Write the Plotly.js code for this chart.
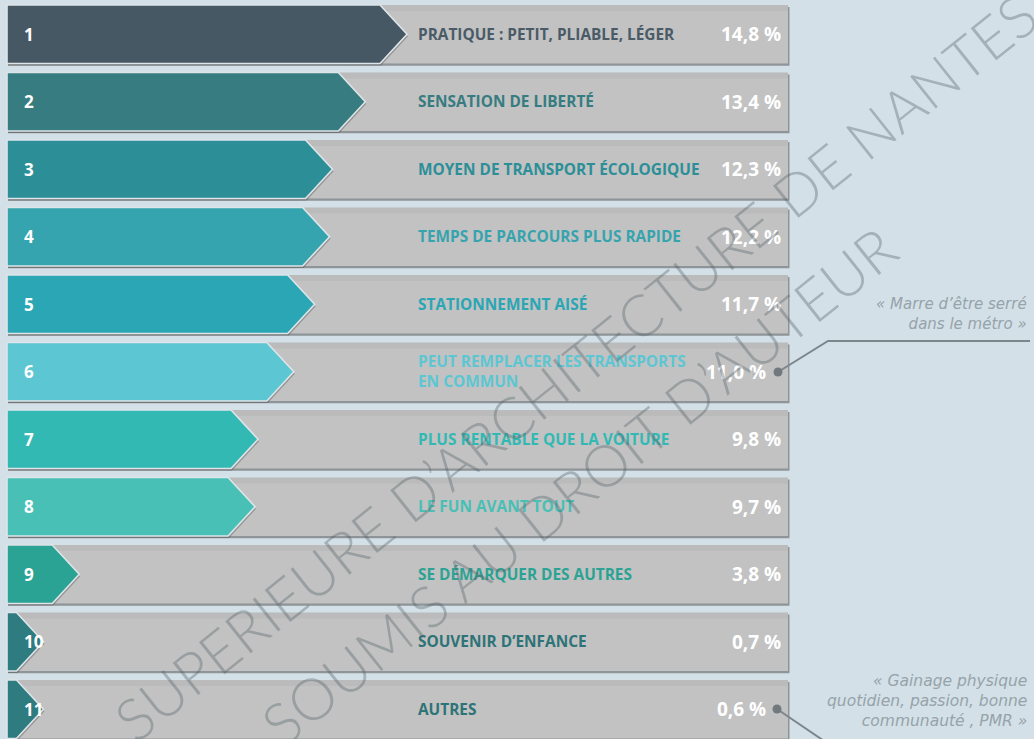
<!DOCTYPE html>
<html>
<head>
<meta charset="utf-8">
<script src="https://cdn.plot.ly/plotly-3.0.1.min.js"></script>
<style>
  html, body { margin: 0; padding: 0; background: #d3e0e7; }
  #chart { width: 1034px; height: 739px; }
</style>
</head>
<body>
<div id="chart"></div>
<script>
// ---------- DATA ----------
const ranks = ['1', '2', '3', '4', '5', '6', '7', '8', '9', '10', '11'];
const labels = [
  'PRATIQUE : PETIT, PLIABLE, LÉGER',
  'SENSATION DE LIBERTÉ',
  'MOYEN DE TRANSPORT ÉCOLOGIQUE',
  'TEMPS DE PARCOURS PLUS RAPIDE',
  'STATIONNEMENT AISÉ',
  'PEUT REMPLACER LES TRANSPORTS<br>EN COMMUN',
  'PLUS RENTABLE QUE LA VOITURE',
  'LE FUN AVANT TOUT',
  'SE DÉMARQUER DES AUTRES',
  'SOUVENIR D’ENFANCE',
  'AUTRES'
];
const values = [14.8, 13.4, 12.3, 12.2, 11.7, 11.0, 9.8, 9.7, 3.8, 0.7, 0.6];
const quoteRows = [5, 10];
const quotes = [
  '« Marre d’être serré<br>dans le métro »',
  '« Gainage physique<br>quotidien, passion, bonne<br>communauté , PMR »'
];
const watermark = [
  'SUPERIEURE D’ARCHITECTURE DE NANTES',
  'SOUMIS AU DROIT D’AUTEUR'
];

// ---------- STYLE ----------
const barColors = ['#465864', '#367c81', '#2c8f98', '#36a4ae', '#2aa6b4', '#5cc6d3',
                   '#33b9b4', '#48c0b5', '#2ba394', '#2e7b80', '#2e7b80'];
const textColors = ['#4a5b67', '#367c81', '#2c8f98', '#36a4ae', '#2aa6b4', '#5cc6d3',
                    '#33b9b4', '#48c0b5', '#2ba394', '#2e7377', '#2e7377'];
const W = 1034, H = 739;
const rowPx = 67.5;
const halfH = 29.25 / rowPx;
const pxPerUnit = 29.8;
const xOffsetPx = -34;
const xr = [(0 - xOffsetPx) / pxPerUnit, (W - xOffsetPx) / pxPerUnit];
const yr = [(H - 34.25) / rowPx, -34.25 / rowPx];
const v = p => (p - xOffsetPx) / pxPerUnit;
const px = p => p / W;
const py = p => 1 - p / H;
const leftV = v(7);
const depth = 27 / pxPerUnit;
const minTip = 2.6;
const dyPx = 1 / rowPx;

const traces = [];
const shapes = [];
const annotations = [];

values.forEach((val, i) => {
  shapes.push({type: 'rect', layer: 'below', xref: 'paper', yref: 'y',
    x0: px(8), x1: px(789.5), y0: i - halfH + 2 * dyPx, y1: i + halfH + 2.2 * dyPx,
    fillcolor: '#8e9497', line: {width: 0}});
  shapes.push({type: 'rect', layer: 'below', xref: 'paper', yref: 'y',
    x0: px(7), x1: px(788), y0: i - halfH, y1: i + halfH,
    fillcolor: '#c2c2c2', line: {width: 0}});
  shapes.push({type: 'rect', layer: 'below', xref: 'paper', yref: 'y',
    x0: px(7), x1: px(788), y0: i - halfH, y1: i - halfH + 6 * dyPx,
    fillcolor: 'rgba(0,0,0,0.035)', line: {width: 0}});

  const tip = Math.max(val, minTip);
  const body = Math.max(leftV, tip - depth);
  traces.push({type: 'scatter', mode: 'lines', hoverinfo: 'skip', showlegend: false,
    x: [leftV, body, tip, body, leftV, leftV].map(q => q + 1 / pxPerUnit),
    y: [i - halfH, i - halfH, i, i + halfH, i + halfH, i - halfH].map(q => q + 2 * dyPx),
    fill: 'toself', fillcolor: 'rgba(60,60,60,0.35)', line: {width: 0}});
  traces.push({type: 'scatter', mode: 'lines', hoverinfo: 'skip', showlegend: false,
    x: [leftV, body, tip, body, leftV, leftV],
    y: [i - halfH, i - halfH, i, i + halfH, i + halfH, i - halfH],
    fill: 'toself', fillcolor: barColors[i], line: {color: '#dde5e9', width: 1.6}});

  annotations.push({xref: 'paper', yref: 'y', x: px(22), y: i, xanchor: 'left', yanchor: 'middle',
    text: ranks[i], showarrow: false,
    font: {family: 'Open Sans', size: 17, color: '#ffffff', weight: 'bold'}});
  annotations.push({xref: 'paper', yref: 'y', x: px(416), y: i, xanchor: 'left', yanchor: 'middle',
    text: labels[i], showarrow: false, align: 'left',
    font: {family: 'Open Sans', size: 15.4, color: textColors[i], weight: 'bold'}});
  const shifted = quoteRows.indexOf(i) >= 0;
  annotations.push({xref: 'paper', yref: 'y', x: px(shifted ? 768 : 783), y: i,
    xanchor: 'right', yanchor: 'middle',
    text: val.toFixed(1).replace('.', ',') + ' %', showarrow: false,
    font: {family: 'Open Sans', size: 19, color: '#ffffff', weight: 'bold'}});
});

const quoteFont = {family: 'DejaVu Sans', size: 15, color: '#96a3aa', style: 'italic', weight: 200};
annotations.push({xref: 'paper', yref: 'paper', x: px(1029), y: py(314), xanchor: 'right', yanchor: 'middle',
  text: quotes[0], showarrow: false, align: 'right', font: quoteFont});
annotations.push({xref: 'paper', yref: 'paper', x: px(1029), y: py(701), xanchor: 'right', yanchor: 'middle',
  text: quotes[1], showarrow: false, align: 'right', font: Object.assign({}, quoteFont, {size: 15.5})});

shapes.push({type: 'path', xref: 'paper', yref: 'paper', layer: 'above',
  path: `M ${px(778)} ${py(372)} L ${px(828)} ${py(341)} L ${px(1030)} ${py(341)}`,
  line: {color: '#7d868b', width: 2}});
shapes.push({type: 'path', xref: 'paper', yref: 'paper', layer: 'above',
  path: `M ${px(777)} ${py(709)} L ${px(830)} ${py(745)}`,
  line: {color: '#7d868b', width: 2}});
[[778, 372], [777, 709]].forEach(([cx, cy]) => {
  shapes.push({type: 'circle', xref: 'paper', yref: 'paper', layer: 'above',
    x0: px(cx - 4.5), x1: px(cx + 4.5), y0: py(cy + 4.5), y1: py(cy - 4.5),
    fillcolor: '#71797e', line: {width: 0}});
});

const wmFont = {family: 'Lato', size: 58, color: 'rgba(80,95,102,0.36)', weight: 300};
annotations.push({xref: 'paper', yref: 'paper', x: px(575), y: py(366), xanchor: 'center', yanchor: 'middle',
  text: watermark[0], showarrow: false, textangle: -38.5, font: wmFont});
annotations.push({xref: 'paper', yref: 'paper', x: px(578), y: py(485), xanchor: 'center', yanchor: 'middle',
  text: watermark[1], showarrow: false, textangle: -38.5, font: wmFont});

const layout = {
  width: W, height: H,
  margin: {l: 0, r: 0, t: 0, b: 0, pad: 0},
  paper_bgcolor: '#d3e0e7',
  plot_bgcolor: 'rgba(0,0,0,0)',
  xaxis: {range: xr, visible: false, fixedrange: true},
  yaxis: {range: yr, visible: false, fixedrange: true},
  showlegend: false,
  shapes: shapes,
  annotations: annotations
};

Plotly.newPlot('chart', traces, layout, {displayModeBar: false, staticPlot: true});
</script>
</body>
</html>
